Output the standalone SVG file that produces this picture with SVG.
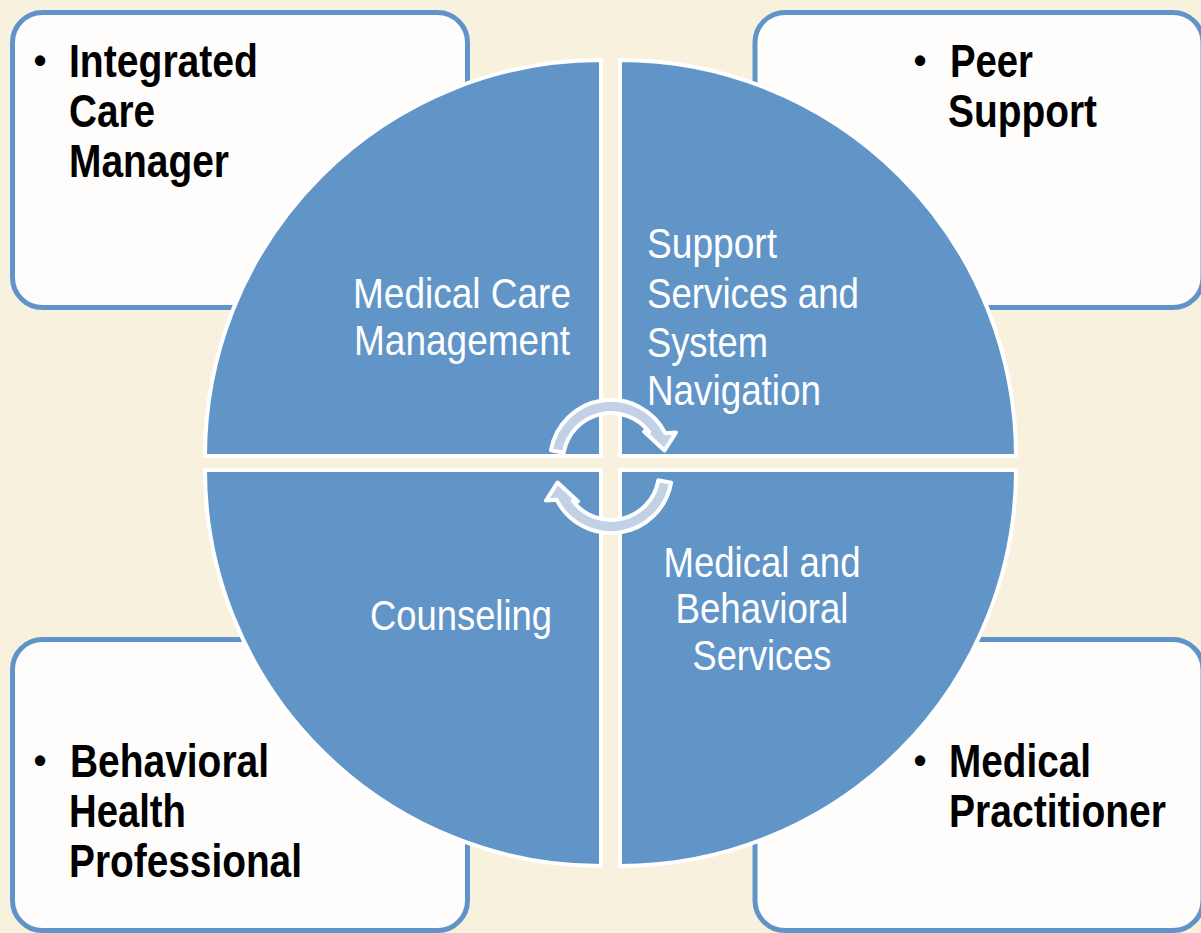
<svg xmlns="http://www.w3.org/2000/svg" width="1201" height="933" viewBox="0 0 1201 933">
<style>
.bg{fill:#f8f1de}
.box{fill:#fefdfb;stroke:#6094c8;stroke-width:5}
.q{fill:#6195c8;stroke:#ffffff;stroke-width:4;stroke-linejoin:round}
.arr{fill:#c3d1e6;stroke:#ffffff;stroke-width:4;stroke-linejoin:round}
.b{font-family:"Liberation Sans Narrow","Liberation Sans",Arial,sans-serif;font-weight:bold;font-size:47px;fill:#000}
.bul{font-family:"Liberation Sans",Arial,sans-serif;font-weight:bold;font-size:36px;fill:#000;text-anchor:middle}
.w{font-family:"Liberation Sans Narrow","Liberation Sans",Arial,sans-serif;font-size:43px;fill:#ffffff}
.m{text-anchor:middle}
</style>
<rect class="bg" x="0" y="0" width="1201" height="933"/>

<g id="box-integrated-care-manager">
<rect class="box" x="12.5" y="12.5" width="455" height="295" rx="30"/>
<text class="bul" x="40" y="73">•</text>
<text class="b" x="69" y="77" textLength="189" lengthAdjust="spacingAndGlyphs">Integrated</text>
<text class="b" x="69" y="127" textLength="86" lengthAdjust="spacingAndGlyphs">Care</text>
<text class="b" x="69" y="177" textLength="160" lengthAdjust="spacingAndGlyphs">Manager</text>
</g>
<g id="box-peer-support">
<rect class="box" x="755" y="12.5" width="448" height="295" rx="30"/>
<text class="bul" x="920" y="73">•</text>
<text class="b" x="950" y="77" textLength="83" lengthAdjust="spacingAndGlyphs">Peer</text>
<text class="b" x="948" y="127" textLength="149" lengthAdjust="spacingAndGlyphs">Support</text>
</g>
<g id="box-behavioral-health-professional">
<rect class="box" x="12.5" y="639.5" width="455" height="291" rx="30"/>
<text class="bul" x="40" y="773">•</text>
<text class="b" x="70" y="777" textLength="199" lengthAdjust="spacingAndGlyphs">Behavioral</text>
<text class="b" x="69" y="827" textLength="117" lengthAdjust="spacingAndGlyphs">Health</text>
<text class="b" x="69" y="877" textLength="233" lengthAdjust="spacingAndGlyphs">Professional</text>
</g>
<g id="box-medical-practitioner">
<rect class="box" x="755" y="639.5" width="448" height="291" rx="30"/>
<text class="bul" x="920" y="773">•</text>
<text class="b" x="949" y="777" textLength="142" lengthAdjust="spacingAndGlyphs">Medical</text>
<text class="b" x="949" y="827" textLength="217" lengthAdjust="spacingAndGlyphs">Practitioner</text>
</g>

<g id="quadrant-medical-care-management">
<path class="q" d="M601 456 L205 456 A396 396 0 0 1 601 60 Z"/>
<text class="w m" x="462" y="308" textLength="218" lengthAdjust="spacingAndGlyphs">Medical Care</text>
<text class="w m" x="462" y="355" textLength="216" lengthAdjust="spacingAndGlyphs">Management</text>
</g>
<g id="quadrant-support-services">
<path class="q" d="M620 456 L620 60 A396 396 0 0 1 1016 456 Z"/>
<text class="w" x="647" y="258" textLength="130" lengthAdjust="spacingAndGlyphs">Support</text>
<text class="w" x="647" y="308" textLength="212" lengthAdjust="spacingAndGlyphs">Services and</text>
<text class="w" x="647" y="357" textLength="121" lengthAdjust="spacingAndGlyphs">System</text>
<text class="w" x="647" y="405" textLength="174" lengthAdjust="spacingAndGlyphs">Navigation</text>
</g>
<g id="quadrant-counseling">
<path class="q" d="M601 470 L601 866 A396 396 0 0 1 205 470 Z"/>
<text class="w m" x="461" y="630" textLength="182" lengthAdjust="spacingAndGlyphs">Counseling</text>
</g>
<g id="quadrant-medical-behavioral-services">
<path class="q" d="M620 470 L1016 470 A396 396 0 0 1 620 866 Z"/>
<text class="w m" x="762" y="577" textLength="197" lengthAdjust="spacingAndGlyphs">Medical and</text>
<text class="w m" x="762" y="623" textLength="173" lengthAdjust="spacingAndGlyphs">Behavioral</text>
<text class="w m" x="762" y="670" textLength="139" lengthAdjust="spacingAndGlyphs">Services</text>
</g>

<g id="connectors">
<path id="cycle-arrow-top" class="arr" d="M550.9 450.4 A61 61 0 0 1 665.4 433.3 L676 432.5 L664.5 450.5 L644 431.5 L649.3 432.1 A48 48 0 0 0 563.7 452.7 Z"/>
<path id="cycle-arrow-bottom" class="arr" transform="rotate(180 611 466.5)" d="M550.9 450.4 A61 61 0 0 1 665.4 433.3 L676 432.5 L664.5 450.5 L644 431.5 L649.3 432.1 A48 48 0 0 0 563.7 452.7 Z"/>
</g>
</svg>
